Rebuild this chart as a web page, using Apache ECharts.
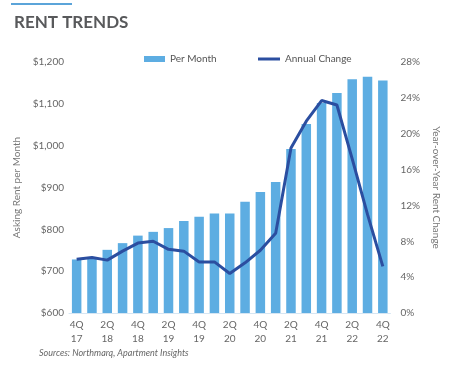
<!DOCTYPE html>
<html>
<head>
<meta charset="utf-8">
<script src="https://cdn.jsdelivr.net/npm/echarts@6/dist/echarts.min.js"></script>
<style>html,body{margin:0;padding:0;background:#fff}#c{width:449px;height:371px}</style>
</head>
<body>
<div id="c"></div>
<script>
var categories = ["4Q\n17","1Q\n18","2Q\n18","3Q\n18","4Q\n18","1Q\n19","2Q\n19","3Q\n19","4Q\n19","1Q\n20","2Q\n20","3Q\n20","4Q\n20","1Q\n21","2Q\n21","3Q\n21","4Q\n21","1Q\n22","2Q\n22","3Q\n22","4Q\n22"];
var perMonth = [728,729,751,767,785,794,803,820,830,838,838,866,889,913,992,1052,1102,1126,1159,1165,1156];
var annualChange = [6.0,6.2,5.9,6.9,7.8,8.0,7.1,6.9,5.7,5.7,4.4,5.6,7.0,8.9,18.4,21.4,23.7,23.2,17.2,11.0,5.2];
var leftTicks = {min:600, max:1200, interval:100};
var rightTicks = {min:0, max:28, interval:4};

var chart = echarts.init(document.getElementById('c'), null, {renderer:'canvas'});
var font = 'Lato, "Open Sans", sans-serif';
chart.setOption({
  animation:false,
  textStyle:{fontFamily:font},
  title:[{
    text:'RENT TRENDS', left:9, top:9,
    textStyle:{fontSize:17, fontWeight:'bold', color:'#58595b', fontFamily:font}
  },{
    text:'Sources: Northmarq, Apartment Insights', left:34, top:344,
    textStyle:{fontSize:9, fontWeight:'normal', fontStyle:'italic', color:'#666', fontFamily:font}
  }],
  graphic:[{type:'rect', shape:{x:11,y:3,width:61,height:2}, style:{fill:'#5ba4d9'}}],
  legend:[{
    top:49, left:139,
    itemWidth:21, itemHeight:6, itemGap:4,
    textStyle:{fontSize:10, color:'#555', fontFamily:font},
    data:[{name:'Per Month', icon:'rect'}]
  },{
    top:49, left:253,
    itemWidth:22, itemHeight:3, itemGap:4,
    textStyle:{fontSize:10, color:'#555', fontFamily:font},
    data:[{name:'Annual Change', icon:'rect'}]
  }],
  grid:{left:69, right:54, top:62, bottom:58},
  xAxis:{
    type:'category', data:categories,
    axisLine:{lineStyle:{color:'#d6e6f3'}},
    axisTick:{show:false},
    axisLabel:{interval:1, color:'#666', fontSize:10, lineHeight:14, margin:5}
  },
  yAxis:[{
    type:'value', min:leftTicks.min, max:leftTicks.max, interval:leftTicks.interval,
    name:'Asking Rent per Month', nameLocation:'middle', nameGap:44, nameRotate:90,
    nameTextStyle:{fontSize:10, color:'#777'},
    axisLabel:{color:'#666', fontSize:10, margin:5, formatter:function(v){return '$'+v.toLocaleString('en-US');}},
    splitLine:{show:false}, axisLine:{show:false}, axisTick:{show:false}
  },{
    type:'value', min:rightTicks.min, max:rightTicks.max, interval:rightTicks.interval,
    name:'Year-over-Year Rent Change', nameLocation:'middle', nameGap:40, nameRotate:-90,
    nameTextStyle:{fontSize:10, color:'#777'},
    axisLabel:{color:'#666', fontSize:10, margin:10, formatter:'{value}%'},
    splitLine:{show:false}, axisLine:{show:false}, axisTick:{show:false}
  }],
  series:[{
    name:'Per Month', type:'bar', data:perMonth, barWidth:9.5,
    itemStyle:{color:'#5dade2'}
  },{
    name:'Annual Change', type:'line', yAxisIndex:1, data:annualChange,
    symbol:'none', smooth:false,
    lineStyle:{width:3, color:'#2b4ea0'}, itemStyle:{color:'#2b4ea0'}
  }]
});
</script>
</body>
</html>
